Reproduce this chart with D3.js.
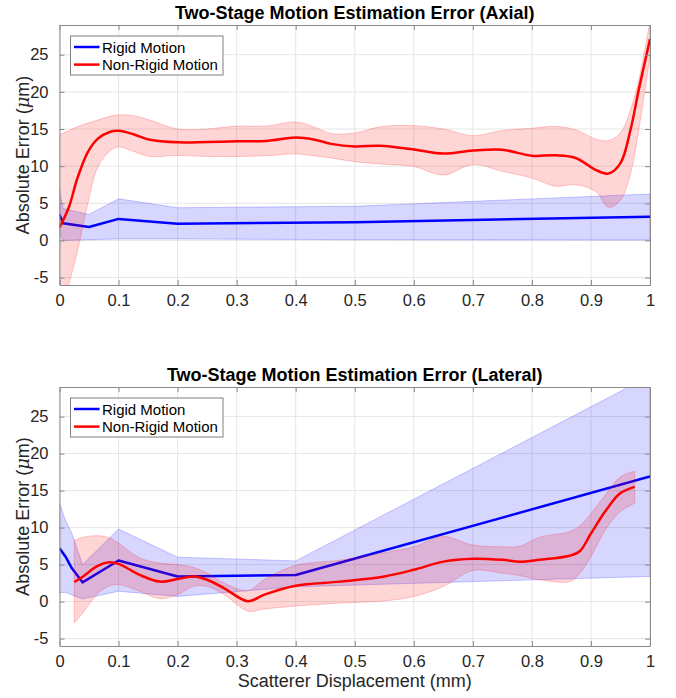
<!DOCTYPE html>
<html>
<head>
<meta charset="utf-8">
<script src="https://cdn.jsdelivr.net/npm/d3@7"></script>
<style>
  body { margin: 0; background: #fff; }
  text { font-family: "Liberation Sans", Arial, sans-serif; }
</style>
</head>
<body>
<div id="chart"></div>
<script>
// Tick labels
var xTickValues = [0, 0.1, 0.2, 0.3, 0.4, 0.5, 0.6, 0.7, 0.8, 0.9, 1];
var yTickValues = [-5, 0, 5, 10, 15, 20, 25];
var seriesNames = ["Rigid Motion", "Non-Rigid Motion"];

// Axial - rigid motion
var axialRigidX     = [0, 0.006, 0.05, 0.1, 0.2, 0.5, 1.0];
var axialRigidMean  = [3.5, 2.3, 1.8, 2.9, 2.25, 2.45, 3.2];
var axialRigidUpper = [6.8, 4.3, 3.5, 5.6, 4.4, 4.6, 6.25];
var axialRigidLower = [0.95, 0.0, 0.1, 0.2, 0.2, 0.1, 0.05];

// Axial - non-rigid motion
var axialNonRigidX = [0, 0.016, 0.03, 0.048, 0.065, 0.085, 0.1, 0.125, 0.153, 0.2, 0.25, 0.3, 0.35, 0.4, 0.43, 0.46,
  0.5, 0.543, 0.6, 0.65, 0.7, 0.75, 0.8, 0.84, 0.874, 0.908, 0.93, 0.95, 0.967, 0.981, 1.0];
var axialNonRigidMean = [1.75, 4.5, 8.3, 11.9, 13.7, 14.6, 14.75, 14.3, 13.55, 13.2, 13.25, 13.35, 13.4, 13.85, 13.6, 13.0,
  12.65, 12.75, 12.25, 11.7, 12.1, 12.2, 11.4, 11.45, 11.1, 9.5, 9.0, 10.4, 14.9, 20.3, 27.1];
var axialNonRigidUpper = [14.2, 14.8, 15.3, 15.8, 16.2, 16.7, 16.9, 16.8, 16.2, 15.0, 15.0, 15.4, 15.4, 15.95, 15.3, 14.4,
  14.45, 15.3, 15.45, 15.0, 14.1, 14.8, 15.1, 15.35, 14.9, 13.65, 13.45, 14.5, 17.6, 21.6, 29.5];
var axialNonRigidLower = [-10, -5.8, -1.6, 5.0, 9.9, 12.0, 12.6, 12.0, 11.3, 11.45, 11.3, 11.3, 11.4, 11.65, 11.4, 11.1,
  10.6, 10.3, 9.95, 8.8, 10.2, 9.3, 8.4, 7.3, 7.5, 6.6, 4.45, 5.4, 9.0, 14.9, 24.8];

// Lateral - rigid motion
var lateralRigidX     = [0, 0.01, 0.021, 0.039, 0.1, 0.2, 0.4, 1.0];
var lateralRigidMean  = [7.2, 6.1, 4.5, 2.6, 5.55, 3.4, 3.6, 16.9];
var lateralRigidUpper = [13.35, 11.0, 9.2, 5.0, 9.8, 6.0, 5.5, 30.5];
var lateralRigidLower = [1.2, 1.25, 0.9, 0.35, 1.4, 0.7, 2.0, 3.4];

// Lateral - non-rigid motion
var lateralNonRigidX = [0.025, 0.04, 0.063, 0.082, 0.1, 0.136, 0.17, 0.2, 0.228, 0.25, 0.279, 0.319, 0.347, 0.4,
  0.475, 0.55, 0.6, 0.65, 0.7, 0.75, 0.78, 0.813, 0.864, 0.881, 0.9, 0.926, 0.949, 0.974];
var lateralNonRigidMean = [2.65, 3.4, 4.75, 5.3, 5.1, 3.6, 2.7, 3.05, 3.4, 2.95, 1.8, 0.05, 0.95, 2.15,
  2.7, 3.4, 4.3, 5.4, 5.8, 5.65, 5.4, 5.65, 6.2, 6.8, 9.2, 12.4, 14.6, 15.5];
var lateralNonRigidUpper = [8.3, 8.7, 8.9, 8.7, 7.9, 5.9, 5.2, 5.0, 4.6, 3.85, 2.5, 1.5, 3.0, 4.9,
  5.6, 6.6, 7.4, 8.8, 7.65, 7.4, 7.5, 8.7, 9.45, 10.2, 11.9, 14.6, 16.8, 17.6];
var lateralNonRigidLower = [-2.9, -1.5, 0.95, 2.05, 2.3, 1.4, 0.4, 0.95, 2.1, 2.05, 0.95, -1.3, -1.0, -0.6,
  -0.2, 0.1, 0.7, 2.05, 4.2, 3.85, 3.5, 2.95, 2.7, 3.8, 6.1, 9.9, 12.1, 13.3];

var W = 676, H = 698;
var plotLeft = 59.5, plotRight = 650;

var svg = d3.select("#chart")
  .append("svg")
  .attr("width", W)
  .attr("height", H);

function zip(xs, mean, upper, lower) {
  return xs.map(function(x, i) {
    return { x: x, mean: mean[i], upper: upper[i], lower: lower[i] };
  });
}

function drawPanel(opts) {
  var x = d3.scaleLinear().domain([0, 1]).range([plotLeft, plotRight]);
  var y = d3.scaleLinear().domain([-6, 29]).range([opts.bottom, opts.top]);
  var clipId = "clip-" + opts.id;

  svg.append("clipPath")
    .attr("id", clipId)
    .append("rect")
    .attr("x", plotLeft)
    .attr("y", opts.top)
    .attr("width", plotRight - plotLeft)
    .attr("height", opts.bottom - opts.top);

  // grid
  var grid = svg.append("g");
  grid.selectAll(".gx")
    .data(xTickValues)
    .enter().append("line")
    .attr("x1", function(d) { return x(d); })
    .attr("x2", function(d) { return x(d); })
    .attr("y1", opts.top)
    .attr("y2", opts.bottom)
    .style("stroke", "#e6e6e6");
  grid.selectAll(".gy")
    .data(yTickValues)
    .enter().append("line")
    .attr("x1", plotLeft)
    .attr("x2", plotRight)
    .attr("y1", function(d) { return y(d); })
    .attr("y2", function(d) { return y(d); })
    .style("stroke", "#e6e6e6");

  var plot = svg.append("g").attr("clip-path", "url(#" + clipId + ")");

  var series = [
    { data: zip(opts.rigid[0], opts.rigid[1], opts.rigid[2], opts.rigid[3]), color: "#0000ff", curve: d3.curveLinear },
    { data: zip(opts.nonRigid[0], opts.nonRigid[1], opts.nonRigid[2], opts.nonRigid[3]), color: "#ff0000", curve: d3.curveCatmullRom.alpha(0.5) }
  ];

  series.forEach(function(s) {
    var area = d3.area()
      .x(function(d) { return x(d.x); })
      .y0(function(d) { return y(d.lower); })
      .y1(function(d) { return y(d.upper); })
      .curve(s.curve);
    var line = d3.line()
      .x(function(d) { return x(d.x); })
      .y(function(d) { return y(d.mean); })
      .curve(s.curve);

    plot.append("path")
      .datum(s.data)
      .attr("d", area)
      .style("fill", s.color)
      .style("fill-opacity", 0.16)
      .style("stroke", s.color)
      .style("stroke-opacity", 0.3)
      .style("stroke-width", 0.7);

    plot.append("path")
      .datum(s.data)
      .attr("d", line)
      .style("fill", "none")
      .style("stroke", s.color)
      .style("stroke-width", 2.5)
      .style("stroke-linejoin", "round");
  });

  // axes (ticks inward on all sides)
  var axisColor = "#8a8a8a";
  var gBottom = svg.append("g")
    .attr("transform", "translate(0," + opts.bottom + ")")
    .call(d3.axisBottom(x).tickValues(xTickValues).tickSizeInner(-5).tickSizeOuter(0)
      .tickPadding(9).tickFormat(function(d) { return String(d); }));
  var gTop = svg.append("g")
    .attr("transform", "translate(0," + opts.top + ")")
    .call(d3.axisTop(x).tickValues(xTickValues).tickSizeInner(-5).tickSizeOuter(0).tickFormat(""));
  var gLeft = svg.append("g")
    .attr("transform", "translate(" + plotLeft + ",0)")
    .call(d3.axisLeft(y).tickValues(yTickValues).tickSizeInner(-5).tickSizeOuter(0)
      .tickPadding(11).tickFormat(function(d) { return String(d); }));
  var gRight = svg.append("g")
    .attr("transform", "translate(" + plotRight + ",0)")
    .call(d3.axisRight(y).tickValues(yTickValues).tickSizeInner(-5).tickSizeOuter(0).tickFormat(""));

  [gBottom, gTop, gLeft, gRight].forEach(function(g) {
    g.select(".domain").style("stroke", axisColor);
    g.selectAll(".tick line").style("stroke", axisColor);
    g.selectAll(".tick text")
      .style("font-size", "16.5px")
      .style("fill", "#262626")
      .style("font-family", "'Liberation Sans', Arial, sans-serif");
  });

  // title
  svg.append("text")
    .attr("x", (plotLeft + plotRight) / 2)
    .attr("y", opts.top - 6)
    .style("text-anchor", "middle")
    .style("font-size", "18px")
    .style("font-weight", "bold")
    .style("fill", "#000")
    .text(opts.title);

  // y label
  var yl = svg.append("text")
    .attr("transform", "translate(28.5," + ((opts.top + opts.bottom) / 2) + ") rotate(-90)")
    .style("text-anchor", "middle")
    .style("font-size", "18px")
    .style("fill", "#262626");
  yl.append("tspan").text("Absolute Error (");
  yl.append("tspan").style("font-style", "italic").style("font-family", "'DejaVu Serif', serif").text("\u03BC");
  yl.append("tspan").text("m)");

  // legend
  var lg = svg.append("g").attr("transform", "translate(70.5," + (opts.top + 11) + ")");
  lg.append("rect")
    .attr("width", 152.5)
    .attr("height", 39)
    .style("fill", "#fff")
    .style("stroke", "#808080")
    .style("stroke-width", 1);
  seriesNames.forEach(function(name, i) {
    var yy = 11 + i * 17.6;
    lg.append("line")
      .attr("x1", 3.5).attr("x2", 29)
      .attr("y1", yy).attr("y2", yy)
      .style("stroke", series[i].color)
      .style("stroke-width", 2.5);
    lg.append("text")
      .attr("x", 31.5)
      .attr("y", yy + 5.5)
      .style("font-size", "15px")
      .style("fill", "#000")
      .text(name);
  });
}

drawPanel({
  id: "axial", top: 25, bottom: 285,
  title: "Two-Stage Motion Estimation Error (Axial)",
  rigid: [axialRigidX, axialRigidMean, axialRigidUpper, axialRigidLower],
  nonRigid: [axialNonRigidX, axialNonRigidMean, axialNonRigidUpper, axialNonRigidLower]
});

drawPanel({
  id: "lateral", top: 387, bottom: 646,
  title: "Two-Stage Motion Estimation Error (Lateral)",
  rigid: [lateralRigidX, lateralRigidMean, lateralRigidUpper, lateralRigidLower],
  nonRigid: [lateralNonRigidX, lateralNonRigidMean, lateralNonRigidUpper, lateralNonRigidLower]
});

// x label (shared, below lower panel)
svg.append("text")
  .attr("x", (plotLeft + plotRight) / 2)
  .attr("y", 687)
  .style("text-anchor", "middle")
  .style("font-size", "18px")
  .style("fill", "#262626")
  .text("Scatterer Displacement (mm)");
</script>
</body>
</html>
